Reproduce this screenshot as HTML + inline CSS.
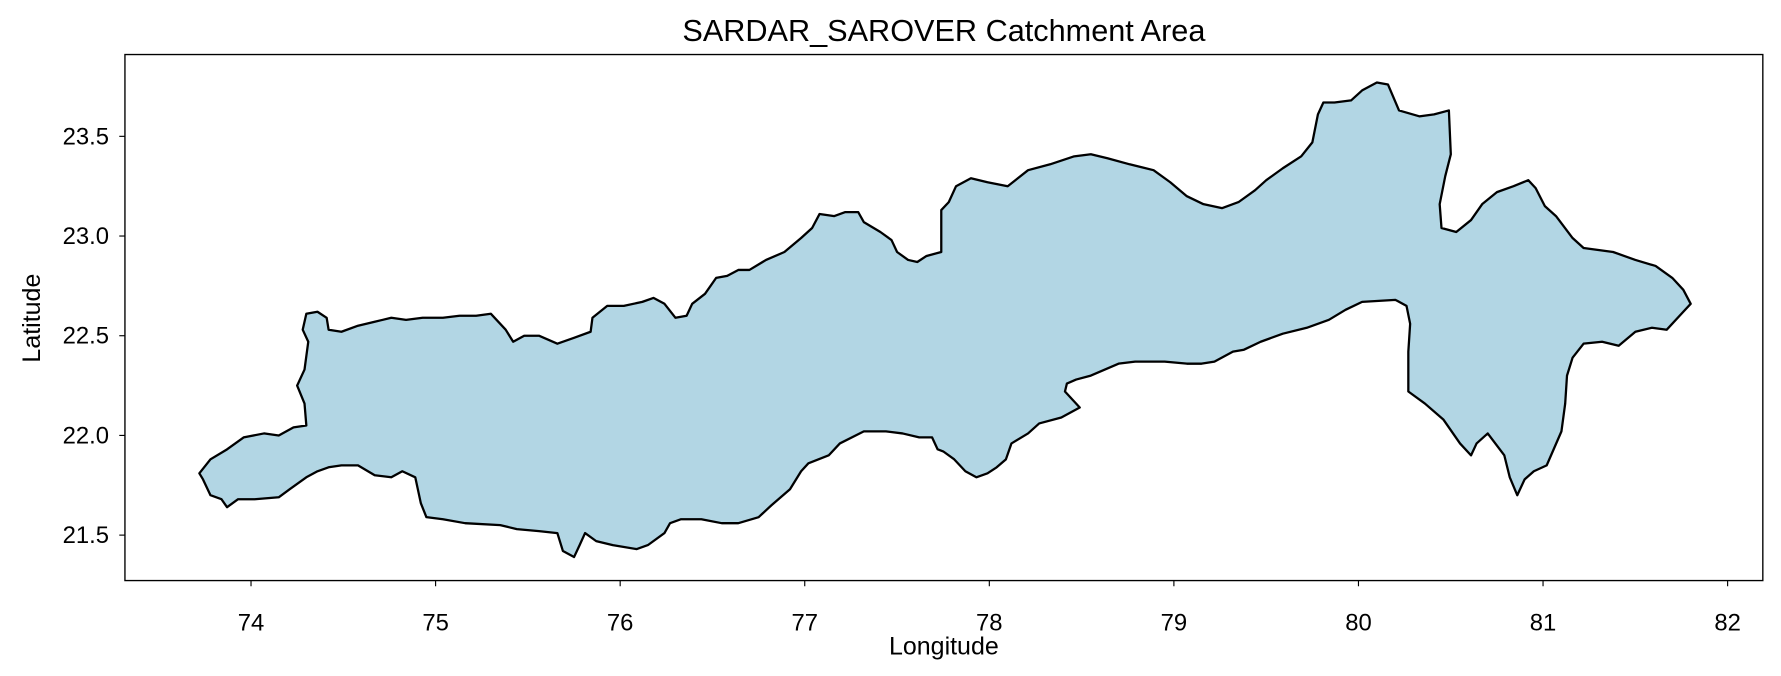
<!DOCTYPE html>
<html><head><meta charset="utf-8"><style>
html,body{margin:0;padding:0;background:#fff;}
svg{display:block;font-family:"Liberation Sans","DejaVu Sans",sans-serif;}
</style></head><body>
<svg id="chart" width="1781" height="676" viewBox="0 0 1568 595" preserveAspectRatio="none" xmlns="http://www.w3.org/2000/svg">
<rect width="1568" height="595" fill="#fff"/>
<text x="831" y="36" text-anchor="middle" font-size="27" fill="#000">SARDAR_SAROVER Catchment Area</text>
<g id="plot"></g>
<rect x="110" y="48" width="1442" height="463" fill="none" stroke="#000" stroke-width="1.2"/>
<g id="xticks"></g><g id="yticks"></g>
<text x="831" y="576" text-anchor="middle" font-size="22">Longitude</text>
<text x="0" y="0" transform="translate(35,280) rotate(-90)" text-anchor="middle" font-size="22">Latitude</text>
</svg>
<script>
const lons=[73.72,73.78,73.87,73.96,74.07,74.15,74.23,74.30,74.29,74.25,74.29,74.31,74.28,74.30,74.36,74.41,74.42,74.49,74.58,74.67,74.76,74.84,74.93,75.04,75.13,75.22,75.30,75.38,75.42,75.48,75.56,75.66,75.75,75.84,75.85,75.93,76.02,76.12,76.18,76.24,76.30,76.36,76.39,76.46,76.52,76.58,76.64,76.70,76.79,76.89,76.98,77.04,77.08,77.16,77.22,77.29,77.32,77.41,77.47,77.50,77.56,77.61,77.66,77.74,77.74,77.78,77.82,77.90,77.99,78.10,78.21,78.33,78.46,78.55,78.64,78.76,78.89,78.98,79.07,79.16,79.26,79.35,79.44,79.50,79.59,79.69,79.75,79.78,79.81,79.87,79.96,80.02,80.10,80.16,80.22,80.33,80.41,80.49,80.50,80.47,80.44,80.45,80.53,80.61,80.67,80.75,80.84,80.92,80.96,81.01,81.07,81.16,81.22,81.38,81.50,81.61,81.70,81.76,81.80,
81.76,81.67,81.59,81.50,81.41,81.32,81.22,81.16,81.13,81.12,81.10,81.02,80.95,80.90,80.86,80.82,80.79,80.70,80.64,80.61,80.55,80.46,80.36,80.27,80.27,80.28,80.26,80.20,80.02,79.93,79.84,79.72,79.59,79.47,79.38,79.32,79.22,79.15,79.07,78.95,78.79,78.70,78.55,78.47,78.42,78.41,78.49,78.39,78.27,78.21,78.12,78.09,78.04,77.99,77.93,77.87,77.81,77.75,77.72,77.69,77.62,77.53,77.44,77.32,77.19,77.13,77.02,76.98,76.92,76.82,76.75,76.64,76.55,76.44,76.33,76.27,76.24,76.15,76.09,75.96,75.87,75.81,75.78,75.75,75.69,75.66,75.56,75.44,75.35,75.16,75.04,74.95,74.92,74.89,74.82,74.76,74.67,74.58,74.49,74.42,74.36,74.30,74.21,74.15,74.02,73.93,73.87,73.84,73.78,73.74];
const lats=[21.81,21.88,21.93,21.99,22.01,22.00,22.04,22.05,22.16,22.25,22.33,22.47,22.53,22.61,22.62,22.59,22.53,22.52,22.55,22.57,22.59,22.58,22.59,22.59,22.60,22.60,22.61,22.53,22.47,22.50,22.50,22.46,22.49,22.52,22.59,22.65,22.65,22.67,22.69,22.66,22.59,22.60,22.66,22.71,22.79,22.80,22.83,22.83,22.88,22.92,22.99,23.04,23.11,23.10,23.12,23.12,23.07,23.02,22.98,22.92,22.88,22.87,22.90,22.92,23.13,23.17,23.25,23.29,23.27,23.25,23.33,23.36,23.40,23.41,23.39,23.36,23.33,23.27,23.20,23.16,23.14,23.17,23.23,23.28,23.34,23.40,23.47,23.61,23.67,23.67,23.68,23.73,23.77,23.76,23.63,23.60,23.61,23.63,23.41,23.30,23.16,23.04,23.02,23.08,23.16,23.22,23.25,23.28,23.24,23.15,23.10,22.99,22.94,22.92,22.88,22.85,22.79,22.73,22.66,
22.62,22.53,22.54,22.52,22.45,22.47,22.46,22.39,22.30,22.16,22.02,21.85,21.82,21.78,21.70,21.79,21.90,22.01,21.96,21.90,21.96,22.08,22.16,22.22,22.42,22.56,22.65,22.68,22.67,22.63,22.58,22.54,22.51,22.47,22.43,22.42,22.37,22.36,22.36,22.37,22.37,22.36,22.30,22.28,22.26,22.22,22.14,22.09,22.06,22.01,21.96,21.88,21.84,21.81,21.79,21.82,21.88,21.92,21.93,21.99,21.99,22.01,22.02,22.02,21.96,21.90,21.86,21.82,21.73,21.65,21.59,21.56,21.56,21.58,21.58,21.56,21.51,21.45,21.43,21.45,21.47,21.51,21.45,21.39,21.42,21.51,21.52,21.53,21.55,21.56,21.58,21.59,21.66,21.79,21.82,21.79,21.80,21.85,21.85,21.84,21.82,21.79,21.73,21.69,21.68,21.68,21.64,21.68,21.70,21.78];
const xTickVals=[74,75,76,77,78,79,80,81,82];
const yTickVals=[21.5,22.0,22.5,23.0,23.5];
const yTickLabels=["21.5","22.0","22.5","23.0","23.5"];
const X=lon=>221+(lon-74)*162.5;
const Y=lat=>120+(23.5-lat)*175.5;
const NS="http://www.w3.org/2000/svg";
const plot=document.getElementById('plot');
let d="";
for(let i=0;i<lons.length;i++){d+=(i?"L":"M")+X(lons[i]).toFixed(1)+","+Y(lats[i]).toFixed(1);}
d+="Z";
const p=document.createElementNS(NS,'path');
p.setAttribute('d',d);p.setAttribute('fill','#b2d6e4');p.setAttribute('stroke','#000');p.setAttribute('stroke-width','2');p.setAttribute('stroke-linejoin','round');


plot.appendChild(p);
const xt=document.getElementById('xticks');
xTickVals.forEach(v=>{
 const l=document.createElementNS(NS,'line');
 l.setAttribute('x1',X(v));l.setAttribute('x2',X(v));l.setAttribute('y1',511);l.setAttribute('y2',516);l.setAttribute('stroke','#000');
 
 
 xt.appendChild(l);
 const t=document.createElementNS(NS,'text');
 t.setAttribute('x',X(v));t.setAttribute('y',555);t.setAttribute('text-anchor','middle');t.setAttribute('font-size','21');
 t.textContent=String(v);
 
 
 xt.appendChild(t);
});
const yt=document.getElementById('yticks');
yTickVals.forEach((v,i)=>{
 const l=document.createElementNS(NS,'line');
 l.setAttribute('x1',105);l.setAttribute('x2',110);l.setAttribute('y1',Y(v));l.setAttribute('y2',Y(v));l.setAttribute('stroke','#000');
 
 
 yt.appendChild(l);
 const t=document.createElementNS(NS,'text');
 t.setAttribute('x',96);t.setAttribute('y',Y(v)+7);t.setAttribute('text-anchor','end');t.setAttribute('font-size','21');
 t.textContent=yTickLabels[i];
 
 
 yt.appendChild(t);
});
</script>
</body></html>
